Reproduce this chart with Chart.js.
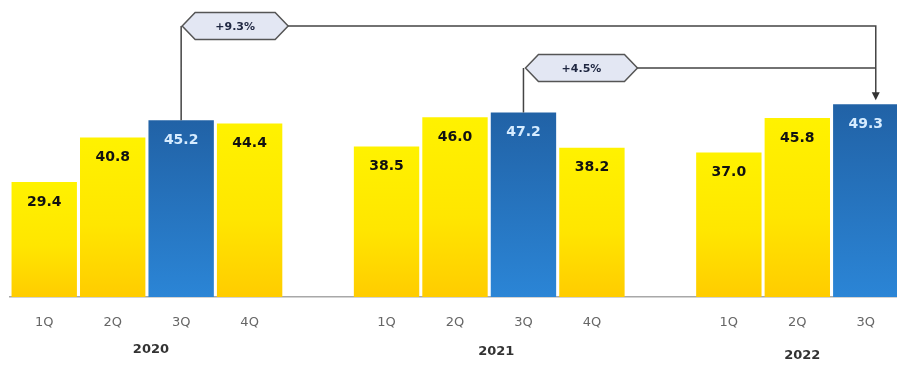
<!DOCTYPE html>
<html><head><meta charset="utf-8">
<script src="https://cdn.jsdelivr.net/npm/chart.js@4/dist/chart.umd.min.js"></script>
<style>html,body{margin:0;padding:0;background:#fff;overflow:hidden}#wrap{width:900px;height:367px;position:relative}</style>
</head><body><div id="wrap"><canvas id="c"></canvas></div>
<script>
const quarterLabels = ['1Q','2Q','3Q','4Q','','1Q','2Q','3Q','4Q','','1Q','2Q','3Q'];
const values2020 = [29.4, 40.8, 45.2, 44.4];
const values2021 = [38.5, 46.0, 47.2, 38.2];
const values2022 = [37.0, 45.8, 49.3];
const years = ['2020','2021','2022'];
const highlightSlots = [2, 7, 12];
const growthLabels = ['+9.3%', '+4.5%'];

const data = [...values2020, null, ...values2021, null, ...values2022];

function barColor(ctx){
  const chart = ctx.chart, i = ctx.dataIndex, v = ctx.raw;
  if (v == null || !chart.chartArea) return '#FFD700';
  const y = chart.scales.y;
  const top = y.getPixelForValue(v), bot = y.getPixelForValue(0);
  const g = chart.ctx.createLinearGradient(0, top, 0, bot);
  if (highlightSlots.includes(i)) { g.addColorStop(0, '#2162A6'); g.addColorStop(1, '#2B85D6'); }
  else { g.addColorStop(0, '#FFF200'); g.addColorStop(0.55, '#FFE600'); g.addColorStop(1, '#FFCC00'); }
  return g;
}

const overlay = {
  id: 'overlay',
  afterDatasetsDraw(chart){
    const c = chart.ctx, x = chart.scales.x, y = chart.scales.y;
    const meta = chart.getDatasetMeta(0);
    // value labels
    c.save();
    c.font = 'bold 14px "DejaVu Sans", Verdana, sans-serif';
    c.textAlign = 'center'; c.textBaseline = 'middle';
    data.forEach((v, i) => {
      if (v == null) return;
      const el = meta.data[i];
      c.fillStyle = highlightSlots.includes(i) ? '#D6ECFF' : '#111';
      c.fillText(v.toFixed(1), el.x, el.y + 20);
    });
    c.restore();

    // year labels
    c.save();
    c.font = 'bold 13px "DejaVu Sans", Verdana, sans-serif';
    c.fillStyle = '#333'; c.textAlign = 'center'; c.textBaseline = 'middle';
    const yearPos = [[1.5, 4, 350], [6.5, 7, 352], [11, 5, 356]];
    years.forEach((t, k) => {
      c.fillText(t, x.getPixelForValue(yearPos[k][0]) + yearPos[k][1], yearPos[k][2]);
    });
    c.restore();

    // annotations
    const targetX = meta.data[12].x + 10;
    const targetY = meta.data[12].y - 4;
    function hexLabel(lx, ly, w, h, txt){
      const s = 13;
      c.beginPath();
      c.moveTo(lx, ly);
      c.lineTo(lx + s, ly - h/2);
      c.lineTo(lx + w - s, ly - h/2);
      c.lineTo(lx + w, ly);
      c.lineTo(lx + w - s, ly + h/2);
      c.lineTo(lx + s, ly + h/2);
      c.closePath();
      c.fillStyle = '#E3E7F3'; c.fill();
      c.strokeStyle = '#555'; c.lineWidth = 1.5; c.stroke();
      c.fillStyle = '#1e2640';
      c.font = 'bold 11px "DejaVu Sans", Verdana, sans-serif';
      c.textAlign = 'center'; c.textBaseline = 'middle';
      c.fillText(txt, lx + w/2, ly + 1);
    }
    c.save();
    c.strokeStyle = '#444'; c.lineWidth = 1.5;
    const a1x = meta.data[2].x, a1top = meta.data[2].y, a1y = 26;
    const a2x = meta.data[7].x, a2top = meta.data[7].y, a2y = 68;
    c.beginPath();
    c.moveTo(a1x, a1top); c.lineTo(a1x, a1y);
    c.moveTo(a1x + 100, a1y); c.lineTo(targetX, a1y); c.lineTo(targetX, targetY - 6);
    c.moveTo(a2x, a2top); c.lineTo(a2x, a2y);
    c.moveTo(a2x + 110, a2y); c.lineTo(targetX, a2y);
    c.stroke();
    // arrowhead
    c.fillStyle = '#333';
    c.beginPath();
    c.moveTo(targetX - 4, targetY - 8); c.lineTo(targetX + 4, targetY - 8); c.lineTo(targetX, targetY); c.closePath(); c.fill();
    hexLabel(a1x + 1, a1y, 106, 27, growthLabels[0]);
    hexLabel(a2x + 2, a2y, 112, 27, growthLabels[1]);
    c.restore();
  }
};

new Chart(document.getElementById('c'), {
  type: 'bar',
  data: { labels: quarterLabels, datasets: [{ data, backgroundColor: barColor, borderWidth: 0, barPercentage: 0.955, categoryPercentage: 1 }] },
  options: {
    responsive: true, maintainAspectRatio: false, animation: false,
    layout: { padding: { left: 10, right: 0, top: 0, bottom: 0 } },
    plugins: { legend: { display: false }, tooltip: { enabled: false } },
    scales: {
      x: {
        grid: { display: false, drawTicks: false },
        border: { display: true, color: '#A8A8A8', width: 1.5 },
        ticks: { color: '#666', font: { family: '"DejaVu Sans", Verdana, sans-serif', size: 13 }, padding: 18, maxRotation: 0, autoSkip: false },
        afterFit: s => { s.height = 70; }
      },
      y: { display: false, min: 0, max: 76 }
    }
  },
  plugins: [overlay]
});
</script></body></html>
